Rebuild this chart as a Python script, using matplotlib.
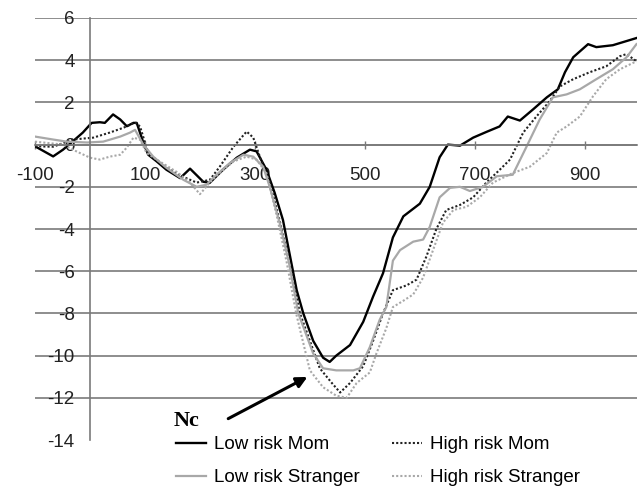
import matplotlib
matplotlib.use('Agg')
import matplotlib.pyplot as plt

# time (ms) and amplitude for each group
low_mom_t = [-100, -67, -49, -31, -13, 3, 18, 27, 42, 55, 67, 79, 85, 97, 106, 121, 139,
             164, 182, 206, 218, 242, 267, 291, 303, 321, 336, 351, 364, 376, 388, 406,
             424, 436, 448, 473, 497, 515, 533, 551, 570, 600, 618, 636, 651, 673, 697,
             721, 745, 760, 782, 806, 831, 851, 864, 879, 906, 921, 951, 994]
low_mom_v = [-0.08, -0.56, -0.24, 0.16, 0.57, 1.03, 1.06, 1.03, 1.43, 1.19, 0.87, 1.03,
             1.03, 0.1, -0.48, -0.79, -1.19, -1.59, -1.14, -1.76, -1.81, -1.19, -0.62,
             -0.24, -0.32, -1.19, -2.29, -3.57, -5.3, -6.9, -8.0, -9.3, -10.1, -10.3,
             -10.0, -9.5, -8.4, -7.2, -6.1, -4.4, -3.4, -2.8, -2.0, -0.6, 0.0, -0.05,
             0.33, 0.6, 0.86, 1.33, 1.14, 1.67, 2.24, 2.62, 3.43, 4.14, 4.76, 4.62,
             4.71, 5.05]

high_mom_t = [-100, -67, -31, 6, 36, 61, 82, 91, 106, 127, 158, 194, 218, 236, 261, 285,
              297, 312, 327, 345, 362, 382, 400, 418, 440, 455, 473, 497, 515, 533, 551,
              576, 594, 612, 630, 648, 673, 697, 721, 745, 764, 788, 812, 836, 855, 879,
              909, 939, 964, 976, 994]
high_mom_v = [-0.08, -0.1, 0.24, 0.33, 0.57, 0.8, 1.05, 0.86, -0.4, -0.86, -1.4, -1.8,
              -1.67, -1.05, -0.1, 0.62, 0.33, -0.8, -1.8, -3.6, -5.5, -8.0, -9.3, -10.6,
              -11.3, -11.75, -11.3, -10.5, -9.3, -8.0, -6.9, -6.67, -6.4, -5.3, -4.0,
              -3.1, -2.86, -2.5, -1.8, -1.2, -0.71, 0.57, 1.33, 2.05, 2.76, 3.1, 3.43,
              3.71, 4.19, 4.29, 3.95]

low_str_t = [-100, -67, -42, -5, 24, 55, 73, 82, 97, 115, 139, 170, 194, 212, 230, 255,
             279, 297, 315, 327, 345, 362, 379, 406, 424, 448, 479, 491, 509, 527, 539,
             551, 564, 588, 606, 618, 636, 655, 673, 691, 715, 740, 769, 794, 818, 842,
             867, 891, 921, 951, 976, 994]
low_str_v = [0.38, 0.24, 0.14, 0.1, 0.14, 0.38, 0.57, 0.7, 0.0, -0.57, -1.1, -1.67, -2.0,
             -1.9, -1.43, -0.86, -0.48, -0.57, -1.05, -2.0, -3.7, -5.6, -8.0, -9.9,
             -10.6, -10.7, -10.7, -10.6, -9.6, -8.3, -7.7, -5.5, -5.0, -4.6, -4.5, -3.9,
             -2.5, -2.05, -2.0, -2.2, -2.0, -1.5, -1.43, -0.1, 1.19, 2.24, 2.38, 2.62,
             3.1, 3.57, 4.14, 4.76]

high_str_t = [-100, -49, -24, 0, 18, 36, 55, 67, 79, 91, 103, 127, 158, 182, 200, 218,
              236, 261, 285, 303, 321, 340, 358, 375, 400, 424, 448, 467, 485, 509, 521,
              539, 551, 570, 588, 606, 624, 642, 661, 685, 709, 733, 769, 800, 831, 849,
              867, 891, 915, 939, 964, 994]
high_str_v = [0.14, 0.0, -0.33, -0.62, -0.71, -0.57, -0.48, -0.14, 0.33, 0.24, -0.4,
              -0.8, -1.3, -1.8, -2.35, -1.8, -1.35, -0.8, -0.57, -0.71, -1.35, -3.4,
              -5.6, -8.0, -10.7, -11.5, -11.9, -12.0, -11.3, -10.8, -9.9, -8.7, -7.7,
              -7.4, -7.1, -6.3, -5.0, -3.7, -3.1, -2.95, -2.5, -1.8, -1.35, -1.05, -0.4,
              0.57, 0.86, 1.33, 2.29, 3.1, 3.57, 3.95]

labels = ['Low risk Mom', 'High risk Mom', 'Low risk Stranger', 'High risk Stranger']
x_ticks = [-100, 100, 300, 500, 700, 900]
y_ticks = [-14, -12, -10, -8, -6, -4, -2, 0, 2, 4, 6]

plt.rcParams['font.family'] = ['Liberation Sans', 'DejaVu Sans']
plt.rcParams['axes.unicode_minus'] = False

fig = plt.figure(figsize=(6.4, 4.9), dpi=100)
ax = fig.add_axes([35 / 640, 50 / 490, 602 / 640, 422 / 490])

dots = (0, (1, 1))
l1, = ax.plot(low_mom_t, low_mom_v, color='black', lw=1.7)
l2, = ax.plot(high_mom_t, high_mom_v, color='#222222', lw=1.5, ls=dots)
l3, = ax.plot(low_str_t, low_str_v, color='#a8a8a8', lw=1.6)
l4, = ax.plot(high_str_t, high_str_v, color='#a8a8a8', lw=1.5, ls=dots)

ax.set_xlim(-100, 995)
ax.set_ylim(-14, 6)
ax.set_xticks(x_ticks)
ax.set_yticks(y_ticks)

ax.spines['top'].set_visible(False)
ax.spines['right'].set_visible(False)
ax.spines['left'].set_position(('data', 0))
ax.spines['bottom'].set_position(('data', 0))
ax.spines['left'].set_color('#7a7a7a')
ax.spines['bottom'].set_color('#7a7a7a')
ax.spines['left'].set_linewidth(1.2)
ax.spines['bottom'].set_linewidth(1.2)

ax.yaxis.grid(True, color='#7a7a7a', lw=1.2)
ax.get_ygridlines()[0].set_visible(False)
ax.set_axisbelow(True)

ax.tick_params(axis='y', length=0, pad=11, labelsize=13.5, colors='#222222')
ax.tick_params(axis='x', direction='inout', length=6, width=1, color='#7a7a7a',
               pad=13, labelsize=13.5, labelcolor='#222222')

ax.annotate('', xy=(400, -10.95), xytext=(247, -13.05),
            arrowprops=dict(arrowstyle='-|>', lw=2.2, color='black', mutation_scale=16))
ax.text(175, -13.1, 'Nc', family='Liberation Serif', fontweight='bold', fontsize=16,
        ha='center', va='center')

# legend fills column by column, so order handles to get Mom row on top
fig.legend([l1, l3, l2, l4], [labels[0], labels[2], labels[1], labels[3]], ncol=2,
           frameon=False, fontsize=13.5, loc='upper left',
           bbox_to_anchor=(176 / 640, 1 - 436 / 490),
           borderaxespad=0, borderpad=0, handlelength=1.6, handletextpad=0.45,
           columnspacing=1.7, labelspacing=0.85)

fig.savefig('out.png', dpi=100)
